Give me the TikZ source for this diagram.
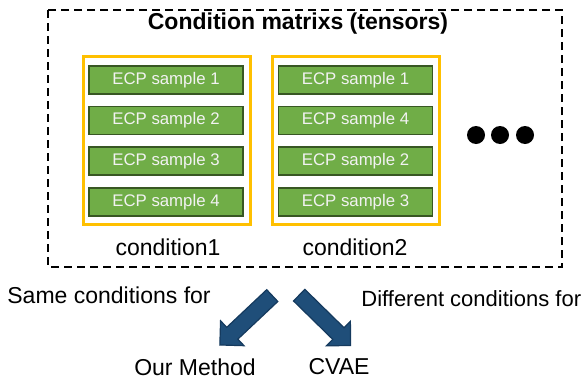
\documentclass[tikz,border=0pt]{standalone}
\usepackage{fontspec}
\setmainfont{Liberation Sans}
\usetikzlibrary{positioning,shapes.arrows}
\definecolor{ecpgreen}{HTML}{70AD47}
\definecolor{ecpdark}{HTML}{385723}
\definecolor{condorange}{HTML}{FFC000}
\definecolor{arrowblue}{HTML}{1F4E79}
\definecolor{arrowdark}{HTML}{153A5E}

\begin{document}
\begin{tikzpicture}[x=0.5pt,y=-0.5pt,
  sample/.style={rectangle,draw=ecpdark,line width=0.8pt,fill=ecpgreen,text=white!95!black,
    minimum width=77pt,minimum height=14pt,inner sep=0pt,font=\fontsize{8.4}{9}\selectfont},
  cond/.style={rectangle,draw=condorange,line width=1.5pt,minimum width=83.5pt,minimum height=84pt},
  big/.style={font=\fontsize{11.5}{13}\selectfont},
  blockarrow/.style={single arrow,fill=arrowblue,draw=arrowdark,line width=0.6pt,inner sep=0pt,
    minimum height=36pt,single arrow head extend=4.5pt,single arrow head indent=0pt}]
\useasboundingbox (0,0) rectangle (587,380);
\draw[dashed,line width=1pt,dash pattern=on 4pt off 2.5pt] (48,10) rectangle (562,267);
\node[big,font=\fontsize{11.5}{13}\selectfont\bfseries] (t) at (298,24) {Condition matrixs (tensors)};

\node[cond] (c1) at (166.5,140) {};
\node[sample] (a1) at (166,80) {ECP sample 1};
\node[sample,below=5.5pt of a1] (a2) {ECP sample 2};
\node[sample,below=5.5pt of a2] (a3) {ECP sample 3};
\node[sample,below=5.5pt of a3] (a4) {ECP sample 4};
\node[big] (l1) at (168,247) {condition1};

\node[cond] (c2) at (356,140) {};
\node[sample] (b1) at (355.5,80) {ECP sample 1};
\node[sample,below=5.5pt of b1] (b2) {ECP sample 4};
\node[sample,below=5.5pt of b2] (b3) {ECP sample 2};
\node[sample,below=5.5pt of b3] (b4) {ECP sample 3};
\node[big] (l2) at (355,247) {condition2};

\fill (476,135) circle (4.5pt) (500,135) circle (4.5pt) (525,135) circle (4.5pt);

\node[big,anchor=west,inner sep=0pt] (same) at (7,295) {Same conditions for};
\node[big,anchor=west,inner sep=0pt,font=\fontsize{11}{13}\selectfont] (diff) at (361,299) {Different conditions for};
\node[big] (ours) at (195,367) {Our Method};
\node[big] (cvae) at (339,367) {CVAE};
\node[blockarrow,rotate=223.3] (p) at (249,317.5) {\rule{0pt}{7.5pt}};
\node[blockarrow,rotate=-44.4] (q) at (322,317.5) {\rule{0pt}{7.5pt}};
\end{tikzpicture}
\end{document}
